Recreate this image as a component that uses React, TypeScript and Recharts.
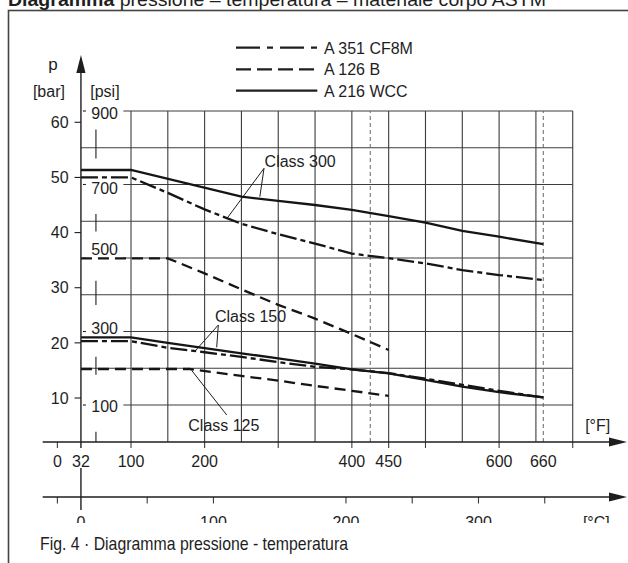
import React from 'react';
import { ComposedChart, Line, XAxis, YAxis, ReferenceLine, ReferenceDot } from 'recharts';

// ---------------- values (temperature °F, pressure bar) ----------------
const WCC300_F = [32, 100, 250, 300, 350, 400, 450, 500, 550, 600, 660];
const WCC300_BAR = [51.35, 51.35, 46.5, 45.75, 45.0, 44.1, 43.0, 41.8, 40.3, 39.25, 37.9];

const CF8M300_F = [32, 100, 150, 200, 250, 300, 350, 400, 450, 500, 550, 600, 660];
const CF8M300_BAR = [50.0, 50.0, 47.2, 44.2, 41.6, 39.7, 38.0, 36.2, 35.35, 34.4, 33.2, 32.3, 31.4];

const WCC150_F = [32, 100, 150, 200, 250, 300, 350, 400, 450, 500, 550, 600, 660];
const WCC150_BAR = [21.0, 21.0, 20.0, 19.05, 18.1, 17.2, 16.25, 15.2, 14.45, 13.3, 12.05, 11.05, 10.1];

const CF8M150_F = [32, 100, 150, 200, 250, 300, 350, 400, 450, 500, 550, 600, 660];
const CF8M150_BAR = [20.3, 20.3, 19.1, 18.3, 17.45, 16.5, 15.65, 15.2, 14.5, 13.5, 12.4, 11.3, 10.1];

const B250_F = [32, 150, 200, 250, 300, 350, 400, 450];
const B250_BAR = [35.33, 35.33, 32.6, 29.7, 26.9, 24.4, 21.6, 18.7];

const B125_F = [32, 180, 250, 300, 350, 400, 450];
const B125_BAR = [15.26, 15.26, 14.0, 13.15, 12.2, 11.3, 10.4];

// ---------------- ticks / labels ----------------
const BAR_TICKS = [10, 20, 30, 40, 50, 60];
const PSI_TICKS = [100, 300, 500, 700, 900];
const PSI_GRID = [100, 200, 300, 400, 500, 600, 700, 800, 900];
const F_GRID = [100, 150, 200, 250, 300, 350, 400, 450, 500, 550, 600, 650, 700];
const F_LIMITS = [425, 660];
const F_TICKS = [0, 32, 100, 200, 300, 400, 450, 500, 600, 660, 700];
const F_TICK_LABELS = ['0', '32', '100', '200', '', '400', '450', '', '600', '660', ''];
const F_TICK_MARKED = [0, 100, 200, 300, 400, 450, 500, 600, 700];
const C_TICKS = [-17.78, 0, 50, 100, 200, 250, 300, 350];
const C_TICK_LABELS = ['', '0', '', '100', '200', '', '300', ''];
const LEGEND_LABELS = ['A 351 CF8M', 'A 126 B', 'A 216 WCC'];
const TITLE_BOLD = 'Diagramma';
const TITLE_REST = ' pressione – temperatura – materiale corpo ASTM';
const CAPTION = 'Fig. 4 · Diagramma pressione - temperatura';

// annotations (data coordinates: °F, bar)
const CLASS_LABELS = [
  { text: 'Class 300', f: 281.5, bar: 52.85 },
  { text: 'Class 150', f: 214.1, bar: 24.87 },
  { text: 'Class 125', f: 177.8, bar: 5.1 },
];
const LEADERS = [
  [[280.7, 51.66], [230, 42.5]],
  [[280.7, 51.66], [275, 46.5]],
  [[218.6, 23.24], [186.9, 18.5]],
  [[218.6, 23.24], [216.4, 19.2]],
  [[182.4, 15.0], [230, 6.92]],
];
// broken psi axis line pieces (psi)
const PSI_AXIS_PIECES = [[771, 850], [572, 620], [372, 438], [182, 231]];

// ---------------- layout ----------------
const W = 628;
const K = 0.7362; // px per °F
const PX_AT_100F = 131;
const fpx = (f: number) => PX_AT_100F + (f - 100) * K;
const F_DOMAIN = [-40, 760];
const Y_AXIS_W = 1;
const M_LEFT = fpx(F_DOMAIN[0]) - 2 * Y_AXIS_W;
const M_RIGHT = W - fpx(F_DOMAIN[1]);
const PLOT_TOP = 30;
const F_AXIS_Y = 442;
const C_AXIS_Y = 497;
const CHART_H = 560;
const CLIP_H = 523;
const BAR_PX60 = 122.3;
const BAR_K = 5.514;
const barAtPx = (px: number) => 60 - (px - BAR_PX60) / BAR_K;
const BAR_DOMAIN = [barAtPx(F_AXIS_Y), barAtPx(PLOT_TOP)];
const PSI_PX900 = 111;
const PSI_K = 0.3675;
const PSI_DOMAIN = [900 - (F_AXIS_Y - PSI_PX900) / PSI_K, 900 + (PSI_PX900 - PLOT_TOP) / PSI_K];
const AX = fpx(32);
const PSI_AXIS_F = 32 + 15 / K;
const LABELED_PSI_START_F = 89.6;
const cToF = (c: number) => c * 1.8 + 32;

const FONT = '"Liberation Sans", Arial, sans-serif';
const INK = '#1e1e1e';
const GRID = '#3c3c3c';
const PSI_LABEL_DY: Record<number, number> = { 900: 2, 700: 4, 500: -9, 300: -3, 100: 1 };

const zip = (fs: number[], bs: number[]) => fs.map((f, i) => ({ f, bar: bs[i] }));

const SERIES = [
  { id: 'wcc300', data: zip(WCC300_F, WCC300_BAR), dash: undefined },
  { id: 'cf8m300', data: zip(CF8M300_F, CF8M300_BAR), dash: '17 4 5 4' },
  { id: 'b250', data: zip(B250_F, B250_BAR), dash: '11 6' },
  { id: 'wcc150', data: zip(WCC150_F, WCC150_BAR), dash: undefined },
  { id: 'cf8m150', data: zip(CF8M150_F, CF8M150_BAR), dash: '17 4 5 4' },
  { id: 'b125', data: zip(B125_F, B125_BAR), dash: '11 6' },
];
const LEGEND_DASH = ['24 7 6 7', '15 6', undefined];

const textStyle = { fontFamily: FONT, fontSize: 16, fill: INK };

const FTick = (props: any) => {
  const { x, payload } = props;
  const i = F_TICKS.indexOf(payload.value);
  const label = F_TICK_LABELS[i];
  return (
    <g>
      {F_TICK_MARKED.includes(payload.value) && (
        <line x1={x} x2={x} y1={F_AXIS_Y} y2={F_AXIS_Y + 6} stroke={GRID} strokeWidth={1.1} />
      )}
      {label ? (
        <text x={x} y={F_AXIS_Y + 24.5} textAnchor="middle" style={textStyle}>{label}</text>
      ) : null}
    </g>
  );
};

const BarTick = (props: any) => {
  const { y, payload } = props;
  return (
    <g>
      <line x1={AX - 6.4} x2={AX} y1={y} y2={y} stroke={INK} strokeWidth={1.1} />
      <text x={AX - 12.4} y={y + 5.7} textAnchor="end" style={textStyle}>{payload.value}</text>
    </g>
  );
};

const PsiTick = (props: any) => {
  const { y, payload } = props;
  const dy = PSI_LABEL_DY[payload.value] ?? 0;
  return (
    <g>
      <line x1={AX + 2} x2={AX + 5} y1={y} y2={y} stroke={INK} strokeWidth={1.1} />
      <text x={AX + 10.3} y={y + dy + 5.7} textAnchor="start" style={textStyle}>{payload.value}</text>
    </g>
  );
};

const TextShape = (text: string, anchor: string, dy: number) => (p: any) => (
  <text x={p.cx} y={p.cy + dy} textAnchor={anchor} style={textStyle}>{text}</text>
);

const Overlay = () => {
  const arrow = (y: number) => (
    <g>
      <line x1={42.7} x2={612} y1={y} y2={y} stroke={INK} strokeWidth={1.4} />
      <polygon points={`609,${y - 4.5} 627,${y} 609,${y + 4.5}`} fill={INK} />
    </g>
  );
  return (
    <svg width={628} height={563} style={{ position: 'absolute', left: 0, top: 0, pointerEvents: 'none' }}>
      <defs>
        <clipPath id="clipTop">
          <rect x={0} y={0} width={628} height={CLIP_H} />
        </clipPath>
      </defs>
      <rect x={8.5} y={10.5} width={660} height={620} fill="none" stroke="#444" strokeWidth={1.6} />
      <text x={8} y={6} fontFamily={FONT} fontSize={19} fill={INK} textLength={538} lengthAdjust="spacingAndGlyphs">
        <tspan fontWeight="bold">{TITLE_BOLD}</tspan>
        {TITLE_REST}
      </text>
      {LEGEND_LABELS.map((l, i) => {
        const y = [47.7, 69.3, 90.7][i];
        return (
          <g key={l}>
            <line x1={236} x2={317.3} y1={y} y2={y} stroke={INK} strokeWidth={2.2} strokeDasharray={LEGEND_DASH[i]} />
            <text x={324} y={y + 6} style={textStyle}>{l}</text>
          </g>
        );
      })}
      {arrow(F_AXIS_Y)}
      {arrow(C_AXIS_Y)}
      <line x1={AX} x2={AX} y1={72} y2={F_AXIS_Y + 6} stroke={INK} strokeWidth={1.4} />
      <line x1={AX} x2={AX} y1={468} y2={510} stroke={INK} strokeWidth={1.4} />
      <polygon points={`${AX - 4.6},73 ${AX},55 ${AX + 4.6},73`} fill={INK} />
      <text x={AX - 28} y={70} textAnchor="middle" style={{ ...textStyle, fontSize: 17 }}>p</text>
      <text x={AX - 32} y={96.5} textAnchor="middle" style={textStyle}>[bar]</text>
      <text x={AX + 24} y={96.5} textAnchor="middle" style={textStyle}>[psi]</text>
      <text x={597.7} y={431} textAnchor="middle" style={textStyle}>[°F]</text>
      <g clipPath="url(#clipTop)">
        <text x={596.3} y={527.5} textAnchor="middle" style={textStyle}>[°C]</text>
      </g>
      <text x={40} y={550} fontFamily={FONT} fontSize={19} fill={INK} textLength={308} lengthAdjust="spacingAndGlyphs">
        {CAPTION}
      </text>
    </svg>
  );
};

export default function App() {
  return (
    <div style={{ position: 'absolute', left: 0, top: 0, width: 628, height: 563, background: '#fff' }}>
      <div style={{ position: 'absolute', left: 0, top: 0, width: 628, height: CLIP_H, overflow: 'hidden' }}>
        <ComposedChart
          width={628}
          height={CHART_H}
          margin={{ top: PLOT_TOP, right: M_RIGHT, bottom: 0, left: M_LEFT }}
        >
          <XAxis
            xAxisId="f"
            dataKey="f"
            type="number"
            domain={F_DOMAIN}
            allowDataOverflow
            ticks={F_TICKS}
            interval={0}
            height={CHART_H - F_AXIS_Y}
            axisLine={false}
            tickLine={false}
            tick={(p: any) => <FTick {...p} />}
          />
          <YAxis
            yAxisId="bar"
            type="number"
            domain={BAR_DOMAIN}
            allowDataOverflow
            ticks={BAR_TICKS}
            interval={0}
            width={Y_AXIS_W}
            axisLine={false}
            tickLine={false}
            tick={(p: any) => <BarTick {...p} />}
          />
          <YAxis
            yAxisId="psi"
            type="number"
            domain={PSI_DOMAIN}
            allowDataOverflow
            ticks={PSI_TICKS}
            interval={0}
            width={Y_AXIS_W}
            axisLine={false}
            tickLine={false}
            tick={(p: any) => <PsiTick {...p} />}
          />

          {/* grid */}
          {F_GRID.map((f) => (
            <ReferenceLine
              key={'vg' + f}
              xAxisId="f"
              yAxisId="psi"
              ifOverflow="visible"
              segment={[{ x: f, y: PSI_DOMAIN[0] }, { x: f, y: 900 }]}
              stroke={GRID}
              strokeWidth={1.1}
            />
          ))}
          {PSI_GRID.map((p) => (
            <ReferenceLine
              key={'hg' + p}
              xAxisId="f"
              yAxisId="psi"
              ifOverflow="visible"
              segment={[{ x: PSI_TICKS.includes(p) ? LABELED_PSI_START_F : 32, y: p }, { x: 700, y: p }]}
              stroke={GRID}
              strokeWidth={1.1}
            />
          ))}
          {F_LIMITS.map((f) => (
            <ReferenceLine
              key={'lim' + f}
              xAxisId="f"
              yAxisId="psi"
              ifOverflow="visible"
              segment={[{ x: f, y: PSI_DOMAIN[0] }, { x: f, y: 900 }]}
              stroke="#666"
              strokeWidth={1}
              strokeDasharray="4 3"
            />
          ))}
          {PSI_AXIS_PIECES.concat([[PSI_DOMAIN[0], 27]]).map((pc, i) => (
            <ReferenceLine
              key={'pa' + i}
              xAxisId="f"
              yAxisId="psi"
              ifOverflow="visible"
              segment={[{ x: PSI_AXIS_F, y: pc[0] }, { x: PSI_AXIS_F, y: pc[1] }]}
              stroke={INK}
              strokeWidth={1.1}
            />
          ))}

          {/* °C scale (ticks placed through the °F scale) */}
          {C_TICKS.filter((c) => c !== 0).map((c) => (
            <ReferenceLine
              key={'ct' + c}
              xAxisId="f"
              yAxisId="bar"
              ifOverflow="visible"
              segment={[{ x: cToF(c), y: barAtPx(C_AXIS_Y) }, { x: cToF(c), y: barAtPx(C_AXIS_Y + 6.5) }]}
              stroke={GRID}
              strokeWidth={1.1}
            />
          ))}
          {C_TICKS.map((c, i) =>
            C_TICK_LABELS[i] ? (
              <ReferenceDot
                key={'cl' + c}
                xAxisId="f"
                yAxisId="bar"
                x={cToF(c)}
                y={barAtPx(C_AXIS_Y + 30.5)}
                r={1}
                ifOverflow="visible"
                shape={TextShape(C_TICK_LABELS[i], 'middle', 0)}
              />
            ) : null
          )}

          {/* leaders */}
          {LEADERS.map((s, i) => (
            <ReferenceLine
              key={'ld' + i}
              xAxisId="f"
              yAxisId="bar"
              ifOverflow="visible"
              segment={[{ x: s[0][0], y: s[0][1] }, { x: s[1][0], y: s[1][1] }]}
              stroke={INK}
              strokeWidth={1}
            />
          ))}

          {SERIES.map((s) => (
            <Line
              key={s.id}
              data={s.data}
              dataKey="bar"
              xAxisId="f"
              yAxisId="bar"
              type="linear"
              stroke="#151515"
              strokeWidth={2.3}
              strokeDasharray={s.dash}
              dot={false}
              activeDot={false}
              isAnimationActive={false}
            />
          ))}

          {CLASS_LABELS.map((c) => (
            <ReferenceDot
              key={c.text}
              xAxisId="f"
              yAxisId="bar"
              x={c.f}
              y={c.bar}
              r={1}
              ifOverflow="visible"
              shape={TextShape(c.text, 'start', 5.7)}
            />
          ))}
        </ComposedChart>
      </div>
      <Overlay />
    </div>
  );
}
